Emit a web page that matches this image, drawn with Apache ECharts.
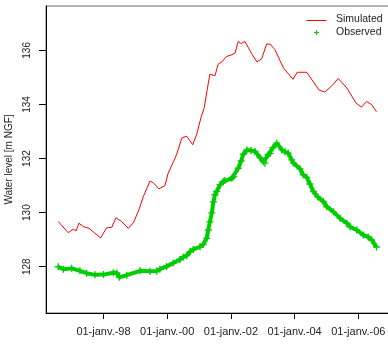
<!DOCTYPE html>
<html>
<head>
<meta charset="utf-8">
<script src="https://cdn.jsdelivr.net/npm/echarts@6/dist/echarts.min.js"></script>
<style>
html,body{margin:0;padding:0;background:#fff;}
#chart{width:388px;height:347px;}
</style>
</head>
<body>
<div id="chart"></div>
<script>
// Simulated water level (decimal years, m NGF)
const simYears = [1996.58,1996.89,1997.05,1997.14,1997.23,1997.37,1997.55,1997.73,1997.91,1998.10,1998.26,1998.39,1998.57,1998.78,1998.94,1999.11,1999.25,1999.46,1999.56,1999.74,1999.93,2000.03,2000.19,2000.30,2000.46,2000.61,2000.80,2000.93,2001.06,2001.16,2001.25,2001.34,2001.40,2001.50,2001.60,2001.72,2001.86,2002.03,2002.13,2002.23,2002.31,2002.44,2002.65,2002.82,2002.97,2003.12,2003.23,2003.38,2003.65,2003.95,2004.08,2004.38,2004.77,2004.95,2005.17,2005.37,2005.64,2005.93,2006.10,2006.26,2006.42,2006.57];
const simLevels = [129.67,129.26,129.39,129.33,129.61,129.48,129.42,129.24,129.07,129.44,129.46,129.81,129.67,129.42,129.63,130.10,130.59,131.17,131.11,130.88,131.00,131.46,131.86,132.17,132.76,132.83,132.51,132.91,133.51,133.87,134.51,135.12,135.16,135.06,135.49,135.58,135.77,135.84,135.90,136.33,136.25,136.33,135.88,135.57,135.70,136.23,136.23,136.03,135.35,134.93,135.19,135.19,134.53,134.46,134.69,134.96,134.61,134.05,133.90,134.11,133.99,133.73];

// Observed water level
const obsYears = [1996.58,1996.74,1997.00,1997.26,1997.47,1997.73,1998.00,1998.31,1998.42,1998.50,1998.73,1999.15,1999.46,1999.67,1999.77,1999.98,2000.19,2000.40,2000.51,2000.61,2000.72,2000.82,2001.03,2001.13,2001.24,2001.29,2001.34,2001.40,2001.45,2001.50,2001.55,2001.66,2001.76,2001.81,2002.03,2002.08,2002.23,2002.32,2002.39,2002.50,2002.63,2002.76,2002.91,2003.02,2003.07,2003.17,2003.23,2003.32,2003.44,2003.60,2003.70,2003.80,2003.91,2003.96,2004.17,2004.27,2004.38,2004.48,2004.59,2004.73,2004.90,2005.01,2005.22,2005.43,2005.64,2005.74,2005.95,2006.16,2006.31,2006.42,2006.57];
const obsLevels = [128.00,127.91,127.94,127.85,127.76,127.70,127.71,127.78,127.77,127.61,127.69,127.85,127.83,127.84,127.91,128.01,128.14,128.27,128.36,128.41,128.56,128.64,128.74,128.82,129.05,129.36,129.66,129.99,130.40,130.66,130.78,131.03,131.15,131.19,131.27,131.33,131.64,131.91,132.16,132.32,132.30,132.26,132.04,131.88,131.83,132.14,132.19,132.40,132.57,132.32,132.25,132.20,131.95,131.84,131.62,131.40,131.30,131.06,130.78,130.58,130.41,130.22,130.03,129.79,129.61,129.48,129.36,129.17,129.10,128.99,128.73];

// Axis ticks
const xTickYears = [1998, 2000, 2002, 2004, 2006];
const xTickLabels = ['01-janv.-98', '01-janv.-00', '01-janv.-02', '01-janv.-04', '01-janv.-06'];
const yTicks = [128, 130, 132, 134, 136];

const seriesNames = ['Simulated', 'Observed'];

const FONT = '"Liberation Sans", Arial, sans-serif';
const RED = '#ff0000';
const GREEN = '#00cd00';
const PLUS = 'path://M2,0 L3,0 L3,2 L5,2 L5,3 L3,3 L3,5 L2,5 L2,3 L0,3 L0,2 L2,2 Z';

const simData = simYears.map((t, i) => [t, simLevels[i]]);
const obsData = obsYears.map((t, i) => [t, obsLevels[i]]);

const chart = echarts.init(document.getElementById('chart'), null, {renderer: 'canvas'});
chart.setOption({
  animation: false,
  backgroundColor: '#ffffff',
  grid: {left: 46, top: 6, right: -2, bottom: 34, show: true, borderColor: '#666', borderWidth: 1,
         containLabel: false, outerBoundsMode: 'none'},
  xAxis: {
    type: 'value', min: 1996.195, max: 2006.995,
    axisLine: {onZero: false, lineStyle: {color: '#000', width: 1}},
    axisTick: {show: true, length: 6, inside: false, customValues: xTickYears, lineStyle: {color: '#000'}},
    axisLabel: {
      customValues: xTickYears, margin: 13, color: '#222', fontFamily: FONT, fontSize: 11,
      formatter: v => xTickLabels[xTickYears.indexOf(Math.round(v))] || ''
    },
    splitLine: {show: false}
  },
  yAxis: {
    type: 'value', min: 126.29, max: 137.64,
    name: 'Water level [m NGF]', nameLocation: 'middle', nameRotate: 90, nameGap: 30,
    nameTextStyle: {color: '#222', fontFamily: FONT, fontSize: 10},
    axisLine: {onZero: false, lineStyle: {color: '#000', width: 1}},
    axisTick: {show: true, length: 7, inside: false, customValues: yTicks, lineStyle: {color: '#000'}},
    axisLabel: {customValues: yTicks, rotate: 90, margin: 14, color: '#222', fontFamily: FONT, fontSize: 10},
    splitLine: {show: false}
  },
  series: [
    {
      name: seriesNames[0], type: 'line', data: simData, showSymbol: false, symbol: 'none',
      lineStyle: {color: RED, width: 1}, itemStyle: {color: RED}, z: 3
    },
    {
      name: seriesNames[1], type: 'line', data: obsData, showSymbol: true, symbol: PLUS, symbolSize: 7,
      lineStyle: {color: GREEN, width: 4}, itemStyle: {color: GREEN}, z: 2
    }
  ],
  graphic: [
    {type: 'line', shape: {x1: 306.5, y1: 20.5, x2: 326.5, y2: 20.5}, style: {stroke: RED, lineWidth: 1}},
    {type: 'text', x: 336, y: 14, style: {text: seriesNames[0], fill: '#222', font: '10.5px ' + FONT}},
    {type: 'line', shape: {x1: 316.5, y1: 30, x2: 316.5, y2: 35}, style: {stroke: GREEN, lineWidth: 1}},
    {type: 'line', shape: {x1: 314, y1: 32.5, x2: 319, y2: 32.5}, style: {stroke: GREEN, lineWidth: 1}},
    {type: 'text', x: 336, y: 26.5, style: {text: seriesNames[1], fill: '#222', font: '10.5px ' + FONT}}
  ]
});
</script>
</body>
</html>
